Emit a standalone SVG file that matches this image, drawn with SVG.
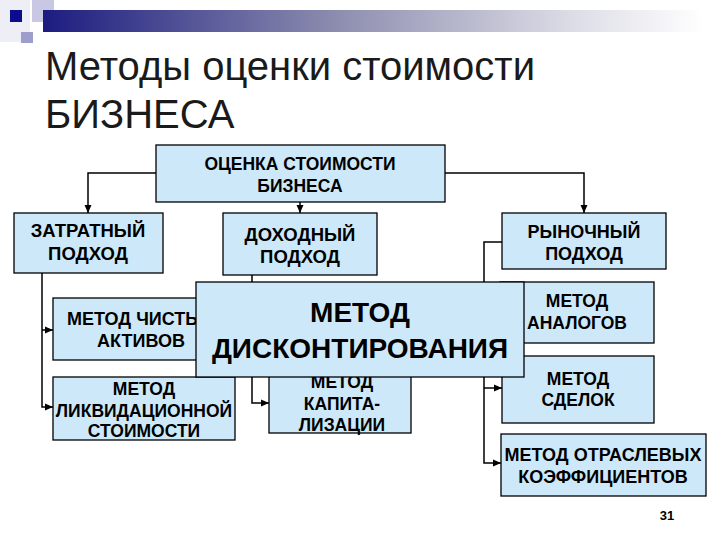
<svg xmlns="http://www.w3.org/2000/svg" width="720" height="540" viewBox="0 0 720 540">
<defs>
<linearGradient id="bar" x1="0" y1="0" x2="1" y2="0">
<stop offset="0" stop-color="#1c1c80"/>
<stop offset="0.45" stop-color="#8e8eb0"/>
<stop offset="0.8" stop-color="#dcdce6"/>
<stop offset="1" stop-color="#ffffff"/>
</linearGradient>
<marker id="ah" viewBox="0 0 8 8" refX="8" refY="4" markerWidth="8" markerHeight="8" markerUnits="userSpaceOnUse" orient="auto">
<path d="M0,0.5 L8,4 L0,7.5 Z" fill="#000"/>
</marker>
<style>
.box{fill:#cde9f9;stroke:#000;stroke-width:1.3}
.t{font-family:"Liberation Sans",Arial,sans-serif;font-weight:bold;fill:#000;text-anchor:middle}
.s17{font-size:17.5px}
.s18{font-size:18px}
.s185{font-size:18.5px}
.c{fill:none;stroke:#000;stroke-width:1.5}
.title{font-family:"Liberation Sans",Arial,sans-serif;font-size:40px;fill:#1a1a1a}
</style>
</defs>
<rect width="720" height="540" fill="#fff"/>
<g id="decor">
<rect x="0" y="0" width="30" height="42" fill="#eeeef6"/>
<rect x="32" y="0" width="22" height="22" fill="#c8c8e4"/>
<rect x="43" y="10" width="660" height="22" fill="url(#bar)"/>
<rect x="10" y="10" width="12" height="12" fill="#0c0c8c"/>
<rect x="21" y="32" width="12" height="11" fill="#9e9ecc"/>
</g>
<g id="title">
<text class="title" x="45" y="80">Методы оценки стоимости</text>
<text class="title" x="45" y="128">БИЗНЕСА</text>
</g>
<g id="connectors">
<path class="c" d="M156,173 H88 V213" marker-end="url(#ah)"/>
<path class="c" d="M445,173 H584 V213" marker-end="url(#ah)"/>
<path class="c" d="M300,202 V213" marker-end="url(#ah)"/>
<path class="c" d="M42,273 V407 H53" marker-end="url(#ah)"/>
<path class="c" d="M42,330 H53" marker-end="url(#ah)"/>
<path class="c" d="M252,275 V403 H269" marker-end="url(#ah)"/>
<path class="c" d="M502,242 H484 V463 H501" marker-end="url(#ah)"/>
<path class="c" d="M484,388 H502" marker-end="url(#ah)"/>
<path class="c" d="M484,313 H500" marker-end="url(#ah)"/>
</g>
<g id="n-root">
<rect class="box" x="156" y="145" width="289" height="57"/>
<text class="t s17" x="300" y="170">ОЦЕНКА СТОИМОСТИ</text>
<text class="t s17" x="300" y="192">БИЗНЕСА</text>
</g>
<g id="n-cost">
<rect class="box" x="14" y="213" width="149" height="60"/>
<text class="t s185" x="88" y="237">ЗАТРАТНЫЙ</text>
<text class="t s185" x="88" y="260">ПОДХОД</text>
</g>
<g id="n-income">
<rect class="box" x="223" y="213" width="154" height="62"/>
<text class="t s185" x="300" y="241">ДОХОДНЫЙ</text>
<text class="t s185" x="300" y="263">ПОДХОД</text>
</g>
<g id="n-market">
<rect class="box" x="502" y="213" width="164" height="56"/>
<text class="t s18" x="584" y="238">РЫНОЧНЫЙ</text>
<text class="t s18" x="584" y="260">ПОДХОД</text>
</g>
<g id="n-net">
<rect class="box" x="53" y="298" width="176" height="62"/>
<text class="t s18" x="141" y="325">МЕТОД ЧИСТЫХ</text>
<text class="t s18" x="141" y="347">АКТИВОВ</text>
</g>
<g id="n-liq">
<rect class="box" x="53" y="377" width="182" height="63"/>
<text class="t s17" x="144" y="395">МЕТОД</text>
<text class="t s17" x="144" y="417">ЛИКВИДАЦИОННОЙ</text>
<text class="t s17" x="144" y="437">СТОИМОСТИ</text>
</g>
<g id="n-cap">
<rect class="box" x="269" y="355" width="142" height="78"/>
<text class="t s17" x="342" y="388">МЕТОД</text>
<text class="t s17" x="342" y="410">КАПИТА-</text>
<text class="t s17" x="342" y="431">ЛИЗАЦИИ</text>
</g>
<g id="n-analog">
<rect class="box" x="500" y="282" width="154" height="61"/>
<text class="t s17" x="577" y="307">МЕТОД</text>
<text class="t s17" x="577" y="329">АНАЛОГОВ</text>
</g>
<g id="n-deals">
<rect class="box" x="502" y="356" width="152" height="67"/>
<text class="t s17" x="578" y="385">МЕТОД</text>
<text class="t s17" x="578" y="406">СДЕЛОК</text>
</g>
<g id="n-industry">
<rect class="box" x="501" y="434" width="205" height="62"/>
<text class="t s18" x="603" y="461">МЕТОД ОТРАСЛЕВЫХ</text>
<text class="t s18" x="603" y="483">КОЭФФИЦИЕНТОВ</text>
</g>
<g id="n-dcf">
<rect class="box" x="196" y="282" width="328" height="95"/>
<text class="t" style="font-size:28px" x="360" y="322">МЕТОД</text>
<text class="t" style="font-size:28px" x="360" y="358">ДИСКОНТИРОВАНИЯ</text>
</g>
<g id="page">
<text class="t" style="font-size:13px" x="667" y="520">31</text>
</g>
</svg>
